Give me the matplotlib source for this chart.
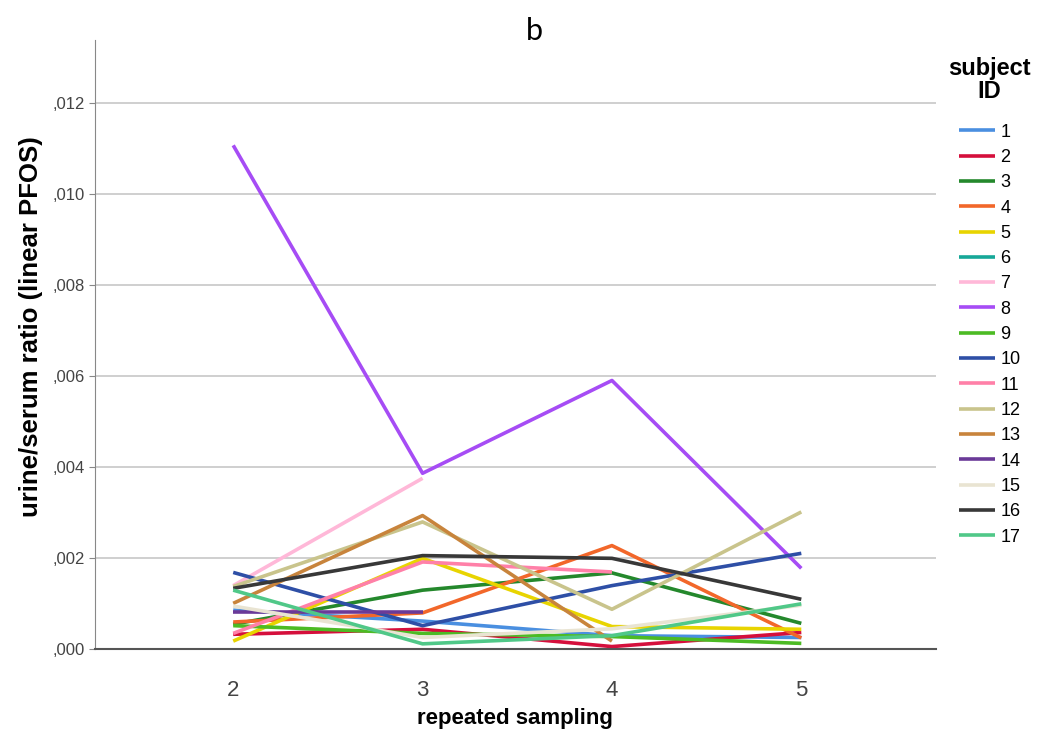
import numpy as np
import matplotlib
matplotlib.use("Agg")
import matplotlib.pyplot as plt
from matplotlib.ticker import FuncFormatter

plt.rcParams["font.family"] = ["Liberation Sans", "DejaVu Sans"]

nan = np.nan

# repeated sampling rounds
samples = [2, 3, 4, 5]

subject_ids = [str(i) for i in range(1, 18)]

s1 = [0.00086, 0.00062, 0.00030, 0.00026]
s2 = [0.00033, 0.00044, 0.00006, 0.00037]
s3 = [0.00055, 0.00130, 0.00168, 0.00057]
s4 = [0.00060, 0.00080, 0.00228, 0.00025]
s5 = [0.00018, 0.00200, 0.00050, 0.00044]
s6 = [nan, nan, nan, nan]
s7 = [0.00140, 0.00376, nan, nan]
s8 = [0.01108, 0.00387, 0.00591, 0.00178]
s9 = [0.00052, 0.00035, 0.00028, 0.00013]
s10 = [0.00169, 0.00052, 0.00140, 0.00211]
s11 = [0.00035, 0.00192, 0.00170, nan]
s12 = [0.00138, 0.00280, 0.00088, 0.00302]
s13 = [0.00101, 0.00294, 0.00018, nan]
s14 = [0.00081, 0.00081, nan, nan]
s15 = [0.00095, 0.00026, 0.00045, 0.00097]
s16 = [0.00134, 0.00206, 0.00200, 0.00110]
s17 = [0.00130, 0.00012, 0.00030, 0.00100]

series = [s1, s2, s3, s4, s5, s6, s7, s8, s9, s10, s11, s12, s13, s14, s15, s16, s17]

colors = ["#4a8fe0", "#d50f3c", "#24882c", "#f2672a", "#e8d400", "#16a898",
          "#ffb8d8", "#a64cf5", "#4cbb24", "#2e4fa6", "#ff80a8", "#c9c48c",
          "#c8843c", "#6a3a98", "#e9e4d2", "#383838", "#50c888"]

fig = plt.figure(figsize=(10.38, 7.37), dpi=100)
ax = fig.add_axes([0.0915, 0.119, 0.81, 0.827])

for vals, c, lab in zip(series, colors, subject_ids):
    ax.plot(samples, vals, color=c, lw=2.6, label=lab, solid_capstyle="butt")

ax.set_xlim(1.27, 5.71)
ax.set_ylim(0, 0.0134)
ax.set_xticks(samples)
ax.set_yticks(np.arange(0, 0.0121, 0.002))
ax.yaxis.set_major_formatter(FuncFormatter(lambda v, p: ("%.3f" % v).lstrip("0").replace(".", ",")))
ax.grid(axis="y", color="#cccccc", lw=1.3)
ax.set_axisbelow(True)

for sp in ["top", "right"]:
    ax.spines[sp].set_visible(False)
ax.spines["left"].set_color("#888888")
ax.spines["bottom"].set_color("#555555")
ax.spines["bottom"].set_linewidth(1.5)
ax.tick_params(axis="x", length=0, labelsize=16, labelcolor="#444444", pad=22)
ax.tick_params(axis="y", length=4, color="#888888", labelsize=12, labelcolor="#444444")

ax.set_xlabel("repeated sampling", fontsize=16, fontweight="bold")
ax.xaxis.set_label_coords(0.5, -0.097)
ax.set_ylabel("urine/serum ratio (linear PFOS)", fontsize=18.5, fontweight="bold")
ax.yaxis.set_label_coords(-0.062, 0.53)
fig.text(0.515, 0.958, "b", fontsize=22, ha="center", va="center", family="Lato")

leg = fig.legend(loc="upper left", bbox_to_anchor=(0.898, 0.945), frameon=False,
                 title="subject\nID", fontsize=13, handlelength=2.0,
                 handletextpad=0.3, labelspacing=0.46)
leg.get_title().set_fontweight("bold")
leg.get_title().set_fontsize(17)
leg.get_title().set_multialignment("center")
leg.get_title().set_linespacing(1.0)
leg._legend_box.sep = 15

fig.savefig("out.png", dpi=100)
